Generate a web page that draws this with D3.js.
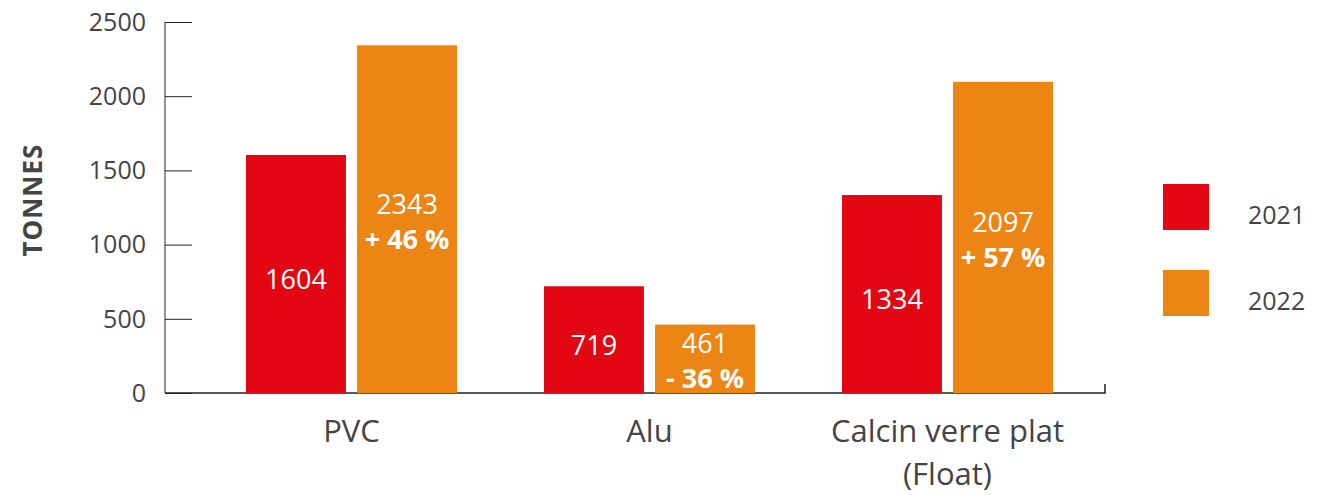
<!DOCTYPE html>
<html>
<head>
<meta charset="utf-8">
<script src="https://cdn.jsdelivr.net/npm/d3@7"></script>
<style>
  body { margin: 0; background: #fff; }
  svg text { font-family: 'Open Sans', 'Lato', sans-serif; }
</style>
</head>
<body>
<div id="chart"></div>
<script>
// data
const categories = ['PVC', 'Alu', 'Calcin verre plat|(Float)'];
const years = ['2021', '2022'];
const values2021 = [1604, 719, 1334];
const values2022 = [2343, 461, 2097];
const changes = ['+ 46 %', '- 36 %', '+ 57 %'];
const yTicks = [0, 500, 1000, 1500, 2000, 2500];
const colors = ['#E30613', '#EC8513'];

const W = 1319, H = 495;
const textColor = '#444';

const svg = d3.select('#chart').append('svg')
  .attr('width', W).attr('height', H);

const yScale = d3.scaleLinear().domain([0, 2500]).range([393, 22]);
const xScale = d3.scaleBand().domain(categories).range([202.5, 1096.5]).padding(0);
const xSub = d3.scaleBand().domain(years).range([0, 211]).paddingInner(0.1);
const groupPad = (xScale.bandwidth() - 211) / 2;

// left axis
const yAxis = svg.append('g')
  .attr('transform', 'translate(165,0)')
  .call(d3.axisRight(yScale).tickValues(yTicks).tickSize(27).tickFormat(''));
yAxis.select('.domain').attr('stroke', '#222').attr('d', `M0,${yScale(2500)}V${yScale(0)}`);
yAxis.selectAll('line').attr('stroke', '#222');

svg.append('g').selectAll('text')
  .data(yTicks)
  .join('text')
  .attr('x', 146).attr('y', d => yScale(d))
  .attr('dy', '0.35em')
  .attr('text-anchor', 'end')
  .style('font-size', '25px').style('fill', textColor)
  .text(d => d);

// axis title
svg.append('text')
  .attr('transform', `translate(42,${yScale(1300)}) rotate(-90)`)
  .attr('text-anchor', 'middle')
  .style('font-size', '26px').style('font-weight', 'bold').style('fill', textColor)
  .style('letter-spacing', '1px')
  .text('TONNES');

// bottom axis line with end tick
svg.append('path')
  .attr('d', `M165,${yScale(0)}H1105V${yScale(0) - 9}`)
  .attr('fill', 'none').attr('stroke', '#222').attr('stroke-width', 1.5);

// bars
const rows = categories.map((c, i) => ({ cat: c, vals: [values2021[i], values2022[i]], change: changes[i] }));

const groups = svg.selectAll('.grp')
  .data(rows)
  .join('g')
  .attr('class', 'grp')
  .attr('transform', d => `translate(${xScale(d.cat) + groupPad},0)`);

groups.selectAll('rect')
  .data(d => d.vals.map((v, j) => ({ year: years[j], v, j, change: d.change })))
  .join('rect')
  .attr('x', d => xSub(d.year))
  .attr('y', d => yScale(d.v))
  .attr('width', xSub.bandwidth())
  .attr('height', d => yScale(0) - yScale(d.v))
  .attr('fill', d => colors[d.j]);

// value labels
groups.each(function(d) {
  const g = d3.select(this);
  d.vals.forEach((v, j) => {
    const cx = xSub(years[j]) + xSub.bandwidth() / 2;
    const mid = (yScale(v) + yScale(0)) / 2;
    if (j === 0) {
      g.append('text')
        .attr('x', cx).attr('y', mid + 6).attr('dy', '0.35em')
        .attr('text-anchor', 'middle')
        .style('font-size', '27px').style('fill', '#fff')
        .text(v);
    } else {
      g.append('text')
        .attr('x', cx).attr('y', mid - 15).attr('dy', '0.35em')
        .attr('text-anchor', 'middle')
        .style('font-size', '27px').style('fill', '#fff')
        .text(v);
      g.append('text')
        .attr('x', cx).attr('y', mid + 20).attr('dy', '0.35em')
        .attr('text-anchor', 'middle')
        .style('font-size', '27px').style('font-weight', 'bold').style('fill', '#fff')
        .text(d.change);
    }
  });
});

// category labels, one text per line
svg.selectAll('.cat')
  .data(categories.flatMap(c => c.split('|').map((l, i) => ({ c, l, i }))))
  .join('text')
  .attr('class', 'cat')
  .attr('text-anchor', 'middle')
  .attr('x', d => xScale(d.c) + xScale.bandwidth() / 2)
  .attr('y', d => 442 + d.i * 43)
  .style('font-size', '31px').style('fill', textColor)
  .text(d => d.l);

// legend
const legend = svg.append('g').selectAll('g')
  .data(years)
  .join('g')
  .attr('transform', (d, i) => `translate(1163,${184 + i * 86})`);
legend.append('rect')
  .attr('width', 46).attr('height', 46)
  .attr('fill', (d, i) => colors[i]);
legend.append('text')
  .attr('x', 85).attr('y', 31)
  .attr('dy', '0.35em')
  .style('font-size', '25px').style('fill', textColor)
  .text(d => d);
</script>
</body>
</html>
